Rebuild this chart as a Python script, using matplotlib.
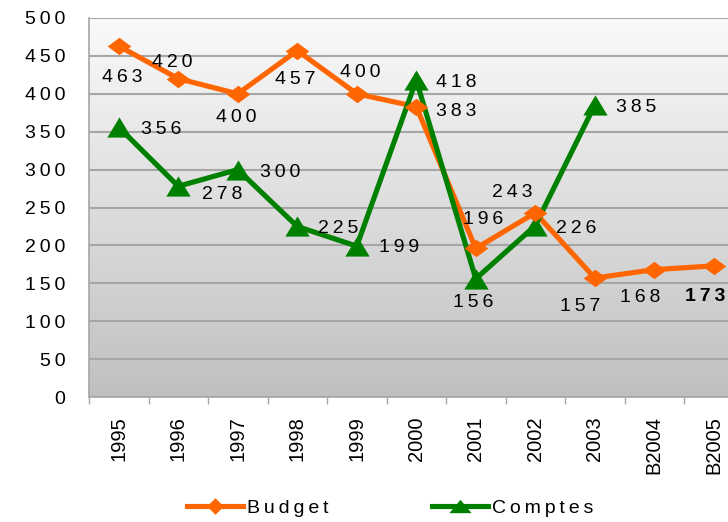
import numpy as np
import matplotlib
matplotlib.use('Agg')
import matplotlib.pyplot as plt

plt.rcParams['font.family'] = ['Liberation Sans', 'DejaVu Sans']

years = ['1995', '1996', '1997', '1998', '1999', '2000', '2001', '2002', '2003', 'B2004', 'B2005']
budget = [463, 420, 400, 457, 400, 383, 196, 243, 157, 168, 173]
comptes = [356, 278, 300, 225, 199, 418, 156, 226, 385]

# label offsets in pixels (dx right, dy down)
budget_offsets = [(4, 29), (-6, -19), (-2, 21), (-2, 26), (4, -24), (40, 2),
                  (7, -31), (-23, -23), (-15, 26), (-14, 25), (-9, 28)]
comptes_offsets = [(42, 0), (44, 6), (42, 0), (41, 0), (42, -1), (40, 0),
                   (-3, 21), (41, 0), (41, 0)]

orange = '#ff6600'
green = '#008000'
grid_col = '#a6a6a6'

# flattened marker shapes like the original
diamond = [(-1, 0), (0, 0.74), (1, 0), (0, -0.74), (-1, 0)]
triangle = [(-1, -0.83), (1, -0.83), (0, 0.83), (-1, -0.83)]
flat_triangle = [(-1, -0.6), (1, -0.6), (0, 0.6), (-1, -0.6)]


def spaced(s):
    # wide letter spacing like the original
    return '\u2009'.join(s)


fig = plt.figure(figsize=(7.28, 5.22), dpi=100)
ax = fig.add_axes([89 / 728, 1 - 397 / 522, (743.5 - 89) / 728, (397 - 18) / 522])

x = np.arange(len(years))
xc = np.arange(len(comptes))

# gradient background
grad = np.linspace(0, 1, 256).reshape(-1, 1)
ax.imshow(grad, extent=[0, 1, 0, 1], transform=ax.transAxes, aspect='auto',
          cmap=matplotlib.colors.LinearSegmentedColormap.from_list('bg', ['#fafafa', '#c0c0c0']),
          zorder=0)

ax.set_xlim(-0.5, len(years) - 0.5)
ax.set_ylim(0, 500)

ax.plot(x, budget, color=orange, lw=3.7, zorder=3)
ax.plot(xc, comptes, color=green, lw=3.7, zorder=4)
ax.plot(xc, comptes, ls='none', marker=triangle, ms=17.5, mew=0, color=green, zorder=5)
ax.plot(x, budget, ls='none', marker=diamond, ms=17, mew=0, color=orange, zorder=6)

for i, v in enumerate(budget):
    dx, dy = budget_offsets[i]
    ax.annotate(spaced(str(v)), (x[i], v), xytext=(dx * 0.72, -(dy + 2.5) * 0.72),
                textcoords='offset points', ha='center', va='center',
                fontsize=14, color='black', zorder=7,
                fontweight='bold' if i == len(budget) - 1 else 'normal',
                annotation_clip=False)

for i, v in enumerate(comptes):
    dx, dy = comptes_offsets[i]
    ax.annotate(spaced(str(v)), (xc[i], v), xytext=(dx * 0.72, -(dy + 2.5) * 0.72),
                textcoords='offset points', ha='center', va='center',
                fontsize=14, color='black', zorder=7)

yticks = list(range(0, 501, 50))
ax.set_yticks(yticks)
ax.set_yticklabels([spaced(str(t)) for t in yticks], fontsize=14)
ax.tick_params(axis='y', length=0, pad=17)
ax.grid(axis='y', color=grid_col, lw=1.5, zorder=1)
ax.set_axisbelow(True)

ax.set_xticks(x)
ax.set_xticklabels(years, rotation=90, fontsize=14.5)
ax.tick_params(axis='x', which='major', length=0, pad=14)
ax.set_xticks(np.arange(len(years) + 1) - 0.5, minor=True)
ax.tick_params(axis='x', which='minor', length=5, color=grid_col, width=1)

for side in ['top', 'right']:
    ax.spines[side].set_visible(False)
ax.spines['left'].set_color(grid_col)
ax.spines['bottom'].set_color(grid_col)
ax.spines['left'].set_linewidth(1.2)
ax.spines['bottom'].set_linewidth(1.2)

h1, = ax.plot([], [], color=orange, lw=3.7, marker=[(-1, 0), (0, 1), (1, 0), (0, -1), (-1, 0)], ms=12, mew=0)
h2, = ax.plot([], [], color=green, lw=3.7, marker=flat_triangle, ms=16, mew=0)
fig.legend([h1, h2], [spaced('Budget'), spaced('Comptes')], loc='center',
           bbox_to_anchor=(0.536, 0.027), ncol=2, frameon=False, fontsize=14,
           handlelength=2.9, handletextpad=0.2, columnspacing=5.3)

fig.savefig('out.png', dpi=100)
